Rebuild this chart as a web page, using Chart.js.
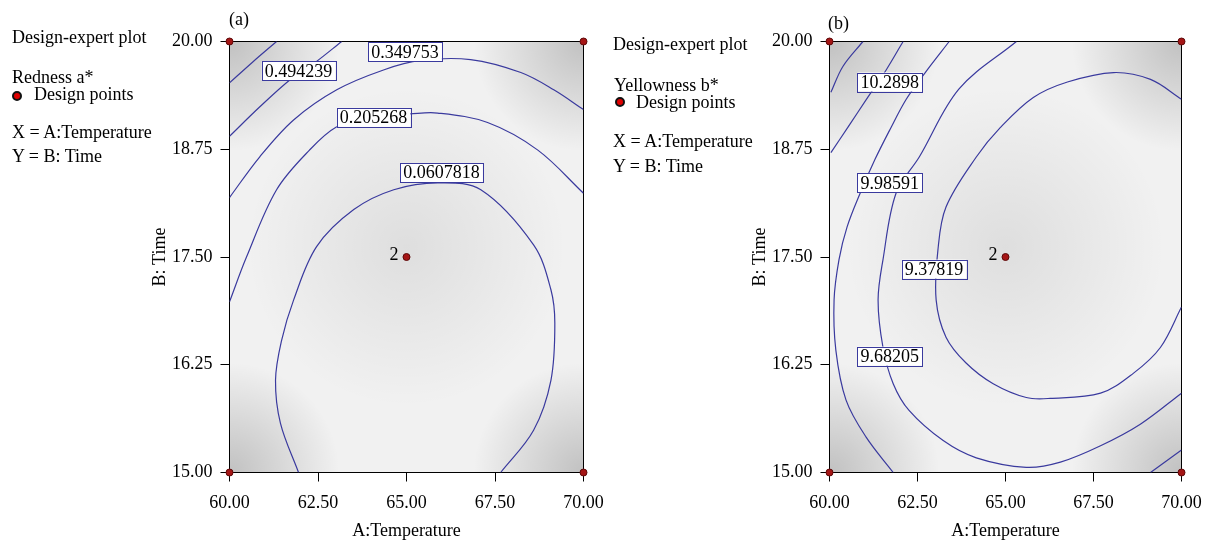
<!DOCTYPE html>
<html>
<head>
<meta charset="utf-8">
<script src="https://cdn.jsdelivr.net/npm/chart.js@4.4.1/dist/chart.umd.min.js"></script>
<style>
  body { margin: 0; background: #fff; }
  #page { position: relative; width: 1205px; height: 542px; overflow: hidden; font-family: "Liberation Serif", "Times New Roman", serif; color: #000; }
  canvas { position: absolute; top: 0; }
  .note { position: absolute; font-size: 18px; line-height: 18px; white-space: nowrap; }
  .dot { position: absolute; width: 6px; height: 6px; border-radius: 50%; background: #e00000; border: 2px solid #111; }
</style>
</head>
<body>
<div id="page">
  <canvas id="chartA" width="605" height="542" style="left:0"></canvas>
  <canvas id="chartB" width="600" height="542" style="left:605px"></canvas>

  <div class="note" style="left:229px;top:10px">(a)</div>
  <div class="note" style="left:12px;top:28px">Design-expert plot</div>
  <div class="note" style="left:12px;top:68px">Redness a*</div>
  <div class="dot" style="left:12px;top:91px"></div>
  <div class="note" style="left:34px;top:85px">Design points</div>
  <div class="note" style="left:12px;top:123px">X = A:Temperature</div>
  <div class="note" style="left:12px;top:147px">Y = B: Time</div>

  <div class="note" style="left:828px;top:14px">(b)</div>
  <div class="note" style="left:613px;top:35px">Design-expert plot</div>
  <div class="note" style="left:614px;top:76px">Yellowness b*</div>
  <div class="dot" style="left:615px;top:97px"></div>
  <div class="note" style="left:636px;top:93px">Design points</div>
  <div class="note" style="left:613px;top:132px">X = A:Temperature</div>
  <div class="note" style="left:613px;top:157px">Y = B: Time</div>
</div>
<script>
// axes
const xTicks = [60, 62.5, 65, 67.5, 70];
const yTicks = [15, 16.25, 17.5, 18.75, 20];

// design points [temperature, time]; the centre one was run twice
const designPoints = [[60, 15], [60, 20], [70, 15], [70, 20], [65, 17.5]];
const centerRuns = '2';

// (a) Redness a* contour lines, [temperature, time]
const rednessCorner = [[61.33, 20], [60.65, 19.76], [60, 19.52]];
const redness0494239 = [[63.17, 20], [62.43, 19.76], [61.72, 19.56], [60.85, 19.24], [60, 18.90]];
const redness0349753 = [[60, 18.19], [60.85, 18.66], [61.81, 19.09], [63.03, 19.44], [64.35, 19.67], [65.40, 19.78],
  [66.81, 19.79], [68.23, 19.64], [69.16, 19.44], [70, 19.21]];
const redness0205268 = [[60, 16.98], [60.48, 17.50], [61.33, 18.28], [62.26, 18.74], [63.03, 19.01], [63.99, 19.13],
  [65.09, 19.16], [65.88, 19.17], [67.29, 19.06], [68.71, 18.74], [70, 18.24]];
const redness0060782 = [[61.95, 15], [61.44, 15.57], [61.30, 16.07], [61.47, 16.53], [61.81, 17.0], [62.46, 17.62],
  [63.51, 18.05], [64.64, 18.28], [65.88, 18.36], [67.10, 18.28], [68.59, 17.64], [69.08, 17.12], [69.19, 16.73],
  [69.08, 16.07], [68.59, 15.49], [67.66, 15]];
const rednessLabels = ['0.494239', '0.349753', '0.205268', '0.0607818'];
const rednessLabelAt = [[61.95, 19.66], [64.96, 19.88], [64.07, 19.12], [65.99, 18.48]];

// (b) Yellowness b* contour lines
const yellowCorner = [[60.95, 20], [60.38, 19.71], [60.04, 19.41]];
const yellow102898 = [[62.09, 20], [61.61, 19.67], [61.10, 19.36], [60.53, 19.01], [60.04, 18.71]];
const yellow998591 = [[63.40, 20], [62.72, 19.64], [62.18, 19.33], [61.72, 18.98], [61.29, 18.63], [60.87, 18.24],
  [60.50, 17.85], [60.27, 17.47], [60.13, 17.0], [60.18, 16.42], [60.47, 15.84], [61.04, 15.41], [61.81, 15]];
const yellow968205 = [[65.31, 20], [63.68, 19.45], [62.55, 18.66], [61.89, 18.24], [61.52, 17.47], [61.38, 17.0],
  [61.52, 16.45], [61.81, 16.03], [62.26, 15.72], [63.23, 15.37], [64.17, 15.17], [65.59, 15.06], [66.56, 15.12],
  [67.70, 15.31], [68.83, 15.56], [70, 15.92]];
const yellow937819 = [[70, 19.33], [69.12, 19.56], [68.07, 19.64], [66.76, 19.53], [65.79, 19.35], [64.85, 19.0],
  [64.17, 18.66], [63.31, 18.08], [63.08, 17.58], [63.03, 17.0], [63.31, 16.57], [63.88, 16.27], [64.65, 16.03],
  [65.59, 15.87], [66.27, 15.86], [67.70, 15.92], [68.63, 16.15], [69.40, 16.45], [70, 16.92]];
const yellowLowCorner = [[69.12, 15], [70, 15.26]];
const yellowLabels = ['10.2898', '9.98591', '9.68205', '9.37819'];
const yellowLabelAt = [[61.71, 19.53], [61.71, 18.36], [61.71, 16.35], [62.97, 17.36]];

const serif = '"Liberation Serif", "Times New Roman", serif';
Chart.defaults.font.family = serif;
Chart.defaults.font.size = 18;
Chart.defaults.color = '#000';

const lineBlue = '#3a3a9e';

// grey prediction-error shading behind the contours, plus the frame
const surface = {
  id: 'surface',
  beforeDatasetsDraw(chart) {
    const { ctx, chartArea: a, scales: { x, y } } = chart;
    ctx.save();
    ctx.beginPath();
    ctx.rect(a.left, a.top, a.width, a.height);
    ctx.clip();
    ctx.fillStyle = '#f1f1f1';
    ctx.fillRect(a.left, a.top, a.width, a.height);
    const cx = x.getPixelForValue(65), cy = y.getPixelForValue(17.5);
    let g = ctx.createRadialGradient(cx, cy - 10, 0, cx, cy - 10, 160);
    g.addColorStop(0, 'rgba(0,0,0,0.08)');
    g.addColorStop(1, 'rgba(0,0,0,0)');
    ctx.fillStyle = g;
    ctx.fillRect(a.left, a.top, a.width, a.height);
    [[a.left, a.top], [a.right, a.top], [a.left, a.bottom], [a.right, a.bottom]].forEach(([px, py]) => {
      g = ctx.createRadialGradient(px, py, 0, px, py, 110);
      g.addColorStop(0, 'rgba(0,0,0,0.2)');
      g.addColorStop(1, 'rgba(0,0,0,0)');
      ctx.fillStyle = g;
      ctx.fillRect(a.left, a.top, a.width, a.height);
    });
    ctx.restore();
    ctx.save();
    ctx.strokeStyle = '#000';
    ctx.lineWidth = 1;
    ctx.strokeRect(a.left, a.top, a.width, a.height);
    ctx.restore();
  }
};

function makePanel(canvasId, lines, labels, labelAt, padLeft, padRight) {
  const datasets = lines.map(line => ({
    data: line.map(p => ({ x: p[0], y: p[1] })),
    showLine: true,
    borderColor: lineBlue,
    borderWidth: 1.2,
    pointRadius: 0,
    tension: 0.35,
    fill: false
  }));
  datasets.push({
    data: designPoints.map(p => ({ x: p[0], y: p[1] })),
    pointRadius: 3.5,
    backgroundColor: '#a51515',
    borderColor: '#5c0808',
    borderWidth: 1,
    clip: false
  });

  const contourLabels = {
    id: 'contourLabels',
    afterDatasetsDraw(chart) {
      const { ctx, scales: { x, y } } = chart;
      ctx.save();
      ctx.font = '18px ' + serif;
      ctx.textBaseline = 'middle';
      labels.forEach((text, i) => {
        const px = x.getPixelForValue(labelAt[i][0]);
        const py = y.getPixelForValue(labelAt[i][1]);
        const w = ctx.measureText(text).width + 6;
        const h = 19;
        ctx.fillStyle = '#fff';
        ctx.fillRect(px - w / 2, py - h / 2, w, h);
        ctx.strokeStyle = lineBlue;
        ctx.lineWidth = 1;
        ctx.strokeRect(Math.round(px - w / 2) + 0.5, Math.round(py - h / 2) + 0.5, Math.round(w), h);
        ctx.fillStyle = '#000';
        ctx.textAlign = 'center';
        ctx.fillText(text, px, py + 1);
      });
      // replicate count beside the centre point
      const c = designPoints[4];
      ctx.textAlign = 'right';
      ctx.fillText(centerRuns, x.getPixelForValue(c[0]) - 8, y.getPixelForValue(c[1]) - 2);
      ctx.restore();
    }
  };

  new Chart(document.getElementById(canvasId), {
    type: 'scatter',
    data: { datasets },
    options: {
      responsive: false,
      animation: false,
      devicePixelRatio: 1,
      layout: { padding: { left: padLeft, right: padRight, top: 41.5, bottom: 0 } },
      plugins: { legend: { display: false }, tooltip: { enabled: false } },
      scales: {
        x: {
          type: 'linear', min: 60, max: 70,
          afterBuildTicks: s => { s.ticks = xTicks.map(v => ({ value: v })); },
          afterFit: s => { s.height = 69.5; s.paddingLeft = 0; s.paddingRight = 0; },
          ticks: { padding: 11, maxRotation: 0, autoSkip: false, callback: v => Number(v).toFixed(2) },
          grid: { drawOnChartArea: false, tickLength: 9, color: '#000' },
          border: { color: '#000' },
          title: { display: true, text: 'A:Temperature', padding: 0 }
        },
        y: {
          type: 'linear', min: 15, max: 20,
          afterBuildTicks: s => { s.ticks = yTicks.map(v => ({ value: v })); },
          afterFit: s => { s.width = 84; s.paddingTop = 0; s.paddingBottom = 0; },
          ticks: { padding: 8, autoSkip: false, callback: v => Number(v).toFixed(2) },
          grid: { drawOnChartArea: false, tickLength: 9, color: '#000' },
          border: { color: '#000' },
          title: { display: true, text: 'B: Time', padding: { top: 4, bottom: 4 } }
        }
      }
    },
    plugins: [surface, contourLabels]
  });
}

makePanel('chartA',
  [rednessCorner, redness0494239, redness0349753, redness0205268, redness0060782],
  rednessLabels, rednessLabelAt, 145.5, 21.5);
makePanel('chartB',
  [yellowCorner, yellow102898, yellow998591, yellow968205, yellow937819, yellowLowCorner],
  yellowLabels, yellowLabelAt, 140.5, 23.5);
</script>
</body>
</html>
